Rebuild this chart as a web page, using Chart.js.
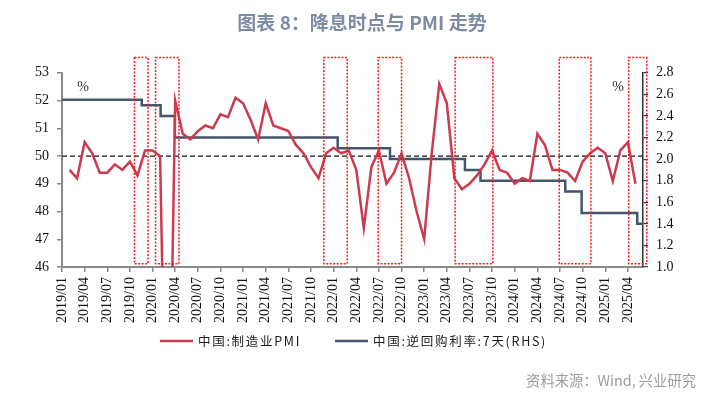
<!DOCTYPE html>
<html>
<head>
<meta charset="utf-8">
<script src="https://cdn.jsdelivr.net/npm/chart.js@4.4.1/dist/chart.umd.min.js"></script>
<style>
  html, body { margin: 0; padding: 0; background: #fff; }
  #wrap { position: relative; width: 724px; height: 396px; }
</style>
</head>
<body>
<div id="wrap"><canvas id="pmiChart" width="724" height="396"></canvas></div>
<script>
// monthly PMI, 2019/01 .. 2025/04 (x = month index, 0 = 2019/01)
const pmiValues = [
  49.5, 49.2, 50.5, 50.1, 49.4, 49.4, 49.7, 49.5, 49.8, 49.3, 50.2, 50.2,
  50.0, 35.7, 52.0, 50.8, 50.6, 50.9, 51.1, 51.0, 51.5, 51.4, 52.1, 51.9,
  51.3, 50.6, 51.9, 51.1, 51.0, 50.9, 50.4, 50.1, 49.6, 49.2, 50.1, 50.3,
  50.1, 50.2, 49.5, 47.4, 49.6, 50.2, 49.0, 49.4, 50.1, 49.2, 48.0, 47.0,
  50.1, 52.6, 51.9, 49.2, 48.8, 49.0, 49.3, 49.7, 50.2, 49.5, 49.4, 49.0,
  49.2, 49.1, 50.8, 50.4, 49.5, 49.5, 49.4, 49.1, 49.8, 50.1, 50.3, 50.1,
  49.1, 50.2, 50.5, 49.0
];

// 7-day reverse repo rate, dates of each change
const repoDates = ["2019/01/01", "2019/11/18", "2020/02/03", "2020/03/30", "2022/01/17", "2022/08/15",
                   "2023/06/13", "2023/08/15", "2024/07/22", "2024/09/27", "2025/05/08", "2025/06/01"];
const repoRates = [2.55, 2.50, 2.40, 2.20, 2.10, 2.00, 1.90, 1.80, 1.70, 1.50, 1.40, 1.40];

// dotted boxes around rate-cut windows (month units)
const cutBoxStart = [8.6, 11.4, 33.7, 40.9, 51.1, 64.9, 74.1];
const cutBoxEnd   = [10.4, 14.5, 36.8, 44.0, 56.1, 69.1, 76.5];

const xTickValues = [];
for (let v = -1; v <= 74; v += 3) xTickValues.push(v);
const leftTicks = [46, 47, 48, 49, 50, 51, 52, 53];
const rightTicks = [1.0, 1.2, 1.4, 1.6, 1.8, 2.0, 2.2, 2.4, 2.6, 2.8];

const RED = "#cb3a4e";
const BLUE = "#44546a";

// month units: -1 = 2019/01/01, 0 = 2019/02/01 (≈ end of 2019/01)
function dateToX(s) {
  const [y, m, d] = s.split("/").map(Number);
  return (y - 2019) * 12 + (m - 1) + (d - 1) / 30 - 1;
}
function xLabel(v) {
  const m = Math.round(v) + 1;
  const y = 2019 + Math.floor(m / 12);
  const mm = (m % 12) + 1;
  return y + "/" + String(mm).padStart(2, "0");
}

const extras = {
  id: "extras",
  afterDraw(chart) {
    const { ctx, chartArea: ca } = chart;
    const xs = chart.scales.x, yl = chart.scales.y;
    ctx.save();
    // dotted red boxes
    ctx.strokeStyle = "#ff1a1a";
    ctx.lineWidth = 1.5;
    ctx.setLineDash([2, 1.5]);
    const top = yl.getPixelForValue(53.55), bot = yl.getPixelForValue(46.12);
    cutBoxStart.forEach((s, i) => {
      const x0 = xs.getPixelForValue(s), x1 = xs.getPixelForValue(cutBoxEnd[i]);
      ctx.strokeRect(x0, top, x1 - x0, bot - top);
    });
    ctx.setLineDash([]);
    // % units
    ctx.fillStyle = "#333";
    ctx.font = '14px "Liberation Serif"';
    ctx.textAlign = "center";
    ctx.textBaseline = "middle";
    ctx.fillText("%", ca.left + 21, ca.top + 15);
    ctx.fillText("%", ca.right - 25, ca.top + 15);
    // legend
    ctx.font = '12.5px "Noto Sans CJK SC"';
    ctx.letterSpacing = "1.7px";
    ctx.textAlign = "left";
    ctx.fillStyle = "#1a1a1a";
    const items = [[chart.data.datasets[0], 160], [chart.data.datasets[1], 335]];
    items.forEach(([ds, x]) => {
      ctx.strokeStyle = ds.borderColor;
      ctx.lineWidth = 2.5;
      ctx.beginPath(); ctx.moveTo(x, 341); ctx.lineTo(x + 33, 341); ctx.stroke();
      ctx.fillText(ds.label, x + 38, 341);
    });
    ctx.letterSpacing = "0px";
    // source
    ctx.font = '14.3px "Noto Sans CJK SC"';
    ctx.fillStyle = "#9c9c9c";
    ctx.textAlign = "right";
    ctx.fillText("资料来源：Wind, 兴业研究", 696, 381);
    ctx.restore();
  }
};

new Chart(document.getElementById("pmiChart"), {
  type: "line",
  data: {
    datasets: [
      {
        label: "中国:制造业PMI",
        data: pmiValues.map((v, i) => ({ x: i, y: v })),
        borderColor: RED, borderWidth: 2.5, pointRadius: 0, tension: 0, yAxisID: "y"
      },
      {
        label: "中国:逆回购利率:7天(RHS)",
        data: repoDates.map((d, i) => ({ x: dateToX(d), y: repoRates[i] })),
        borderColor: BLUE, borderWidth: 2.5, pointRadius: 0, stepped: "before", yAxisID: "y1"
      },
      {
        label: "",
        data: [{ x: -1, y: 50 }, { x: 76, y: 50 }],
        borderColor: "#111", borderWidth: 1.3, borderDash: [5, 3], pointRadius: 0, yAxisID: "y"
      }
    ]
  },
  options: {
    responsive: false,
    devicePixelRatio: 1,
    animation: false,
    layout: { padding: { left: 0, right: 0, top: 0, bottom: 0 } },
    plugins: {
      legend: { display: false },
      tooltip: { enabled: false },
      title: {
        display: true,
        text: "图表 8：降息时点与 PMI 走势",
        color: "#7d8ca3",
        font: { family: "Noto Sans CJK SC", size: 19, weight: "bold", lineHeight: 1.2 },
        padding: { top: 11, bottom: 39 }
      }
    },
    scales: {
      x: {
        type: "linear", min: -1, max: 76,
        afterBuildTicks: s => { s.ticks = xTickValues.map(v => ({ value: v })); },
        afterFit: s => { s.height = 129; },
        ticks: {
          autoSkip: false, minRotation: 90, maxRotation: 90, padding: 5,
          color: "#111", font: { family: "Liberation Serif", size: 14 },
          callback: v => xLabel(v)
        },
        grid: { drawOnChartArea: false, drawTicks: true, tickLength: 5, color: "#8a8a8a", lineWidth: 1.5 },
        border: { display: true, color: "#8a8a8a", width: 2 }
      },
      y: {
        position: "left", min: 46, max: 53,
        afterBuildTicks: s => { s.ticks = leftTicks.map(v => ({ value: v })); },
        afterFit: s => { s.width = 62; },
        ticks: { color: "#111", padding: 8, font: { family: "Liberation Serif", size: 14 } },
        grid: { drawOnChartArea: false, drawTicks: true, tickLength: 5, color: "#8a8a8a", lineWidth: 1.5 },
        border: { display: true, color: "#8a8a8a", width: 2 }
      },
      y1: {
        position: "right", min: 1.0, max: 2.8,
        afterBuildTicks: s => { s.ticks = rightTicks.map(v => ({ value: v })); },
        afterFit: s => { s.width = 81; },
        ticks: { color: "#111", padding: 8, font: { family: "Liberation Serif", size: 14 },
                 callback: v => Number(v).toFixed(1) },
        grid: { drawOnChartArea: false, drawTicks: true, tickLength: 5, color: "#333", lineWidth: 1.2 },
        border: { display: true, color: "#333", width: 1.5 }
      }
    }
  },
  plugins: [extras]
});
</script>
</body>
</html>
